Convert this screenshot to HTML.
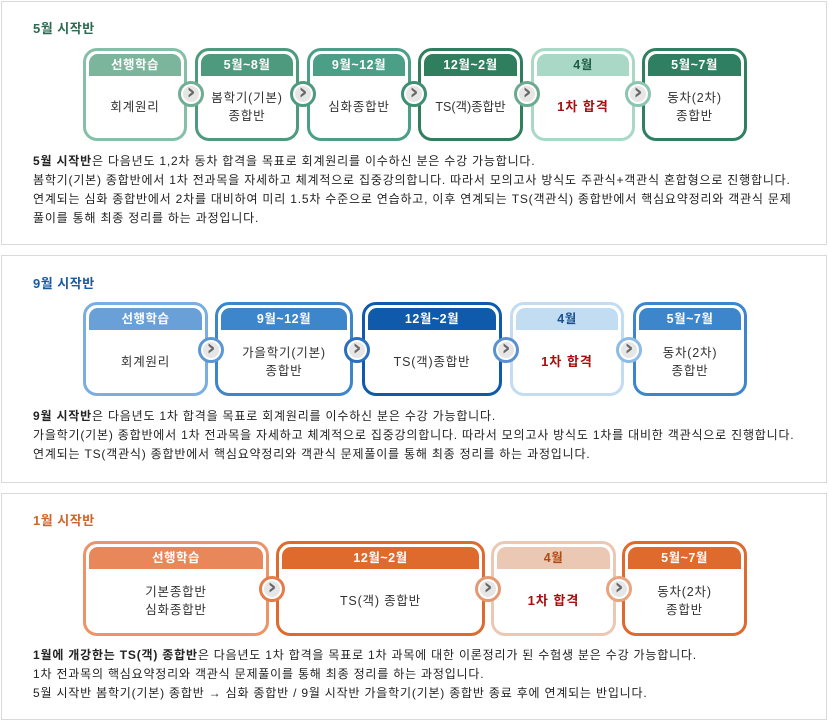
<!DOCTYPE html>
<html><head><meta charset="utf-8">
<style>
*{margin:0;padding:0;box-sizing:border-box}
body{width:829px;height:721px;background:#fff;position:relative;overflow:hidden;font-family:"Liberation Sans","Noto Sans CJK KR",sans-serif;font-size:12px;color:#222}
.panel{position:absolute;left:1px;width:826px;border:1px solid #d9d9d9;background:#fff}
.title{position:absolute;left:33px;font-weight:bold;font-size:13px;letter-spacing:0.5px}
.box{position:absolute;border:3px solid;border-radius:14px;background:#fff}
.hd{position:absolute;left:3px;right:3px;top:3px;height:22px;border-radius:9px 9px 0 0;color:#fff;font-weight:bold;text-align:center;line-height:22px;font-size:12.5px;letter-spacing:0.5px}
.bd{position:absolute;left:0;right:0;top:25px;bottom:0;display:flex;align-items:center;justify-content:center;text-align:center;line-height:18px;font-size:12.5px;letter-spacing:0.8px;color:#333}
.red{color:#a50f0f;font-weight:bold;font-size:13px;letter-spacing:1px}
.cn{position:absolute;width:26px;height:26px;border-radius:50%;border:3px solid;background:#e6e6e6;box-shadow:inset 0 0 0 2px #fff;z-index:2;text-align:center;line-height:18px;color:#666;font-weight:bold;font-size:22px;font-family:"DejaVu Sans",sans-serif}
.tx{position:absolute;left:33px;line-height:19px;font-size:12px;letter-spacing:0.8px;color:#222;white-space:nowrap}
</style></head><body>

<!-- Section 1 -->
<div class="panel" style="top:1px;height:244px"></div>
<div class="title" style="top:18px;color:#2c6b52">5월 시작반</div>

<div class="box" style="left:83px;top:48px;width:104px;height:93px;border-color:#86bfa8"><div class="hd" style="background:#7ab59c">선행학습</div><div class="bd">회계원리</div></div>
<div class="box" style="left:195px;top:48px;width:104px;height:93px;border-color:#4e9a7e"><div class="hd" style="background:#4e9a7e">5월~8월</div><div class="bd">봄학기(기본)<br>종합반</div></div>
<div class="box" style="left:307px;top:48px;width:104px;height:93px;border-color:#4a9f86"><div class="hd" style="background:#4a9f86">9월~12월</div><div class="bd">심화종합반</div></div>
<div class="box" style="left:418px;top:48px;width:105px;height:93px;border-color:#2f7f5f"><div class="hd" style="background:#2f7f5f">12월~2월</div><div class="bd" style="letter-spacing:0">TS(객)종합반</div></div>
<div class="box" style="left:531px;top:48px;width:104px;height:93px;border-color:#a9d9c6"><div class="hd" style="background:#a9d9c6;color:#1e5e44">4월</div><div class="bd"><span class="red">1차 합격</span></div></div>
<div class="box" style="left:642px;top:48px;width:105px;height:93px;border-color:#2f8062"><div class="hd" style="background:#2f8062">5월~7월</div><div class="bd">동차(2차)<br>종합반</div></div>
<div class="cn" style="left:178px;top:81px;border-color:#6fae95">›</div>
<div class="cn" style="left:290px;top:81px;border-color:#4e9a7e">›</div>
<div class="cn" style="left:401px;top:81px;border-color:#3c8f72">›</div>
<div class="cn" style="left:514px;top:81px;border-color:#6aaa90">›</div>
<div class="cn" style="left:625px;top:81px;border-color:#8cc6b0">›</div>

<div class="tx" style="top:152px"><b>5월 시작반</b>은 다음년도 1,2차 동차 합격을 목표로 회계원리를 이수하신 분은 수강 가능합니다.</div>
<div class="tx" style="top:171px">봄학기(기본) 종합반에서 1차 전과목을 자세하고 체계적으로 집중강의합니다. 따라서 모의고사 방식도 주관식+객관식 혼합형으로 진행합니다.</div>
<div class="tx" style="top:190px">연계되는 심화 종합반에서 2차를 대비하여 미리 1.5차 수준으로 연습하고, 이후 연계되는 TS(객관식) 종합반에서 핵심요약정리와 객관식 문제</div>
<div class="tx" style="top:209px">풀이를 통해 최종 정리를 하는 과정입니다.</div>

<!-- Section 2 -->
<div class="panel" style="top:255px;height:228px"></div>
<div class="title" style="top:273px;color:#1a5aa0">9월 시작반</div>

<div class="box" style="left:83px;top:302px;width:125px;height:94px;border-color:#7aaede"><div class="hd" style="background:#6aa0d8">선행학습</div><div class="bd">회계원리</div></div>
<div class="box" style="left:215px;top:302px;width:138px;height:94px;border-color:#3d86cc"><div class="hd" style="background:#3d86cc">9월~12월</div><div class="bd">가을학기(기본)<br>종합반</div></div>
<div class="box" style="left:362px;top:302px;width:140px;height:94px;border-color:#0f5aaa"><div class="hd" style="background:#0f5aaa">12월~2월</div><div class="bd">TS(객)종합반</div></div>
<div class="box" style="left:510px;top:302px;width:114px;height:94px;border-color:#c2dcf2"><div class="hd" style="background:#c2dcf2;color:#1b4f8f">4월</div><div class="bd"><span class="red">1차 합격</span></div></div>
<div class="box" style="left:633px;top:302px;width:114px;height:94px;border-color:#3d86cc"><div class="hd" style="background:#3d86cc">5월~7월</div><div class="bd">동차(2차)<br>종합반</div></div>
<div class="cn" style="left:198px;top:337px;border-color:#5b97d4">›</div>
<div class="cn" style="left:344px;top:337px;border-color:#2a70bc">›</div>
<div class="cn" style="left:493px;top:337px;border-color:#5a92cf">›</div>
<div class="cn" style="left:616px;top:337px;border-color:#8cbbe6">›</div>

<div class="tx" style="top:407px"><b>9월 시작반</b>은 다음년도 1차 합격을 목표로 회계원리를 이수하신 분은 수강 가능합니다.</div>
<div class="tx" style="top:426px">가을학기(기본) 종합반에서 1차 전과목을 자세하고 체계적으로 집중강의합니다. 따라서 모의고사 방식도 1차를 대비한 객관식으로 진행합니다.</div>
<div class="tx" style="top:445px">연계되는 TS(객관식) 종합반에서 핵심요약정리와 객관식 문제풀이를 통해 최종 정리를 하는 과정입니다.</div>

<!-- Section 3 -->
<div class="panel" style="top:493px;height:227px"></div>
<div class="title" style="top:510px;color:#d0652a">1월 시작반</div>

<div class="box" style="left:83px;top:541px;width:186px;height:95px;border-color:#ec9468"><div class="hd" style="background:#e8875a">선행학습</div><div class="bd">기본종합반<br>심화종합반</div></div>
<div class="box" style="left:276px;top:541px;width:209px;height:95px;border-color:#df6a2e"><div class="hd" style="background:#df6a2e">12월~2월</div><div class="bd">TS(객) 종합반</div></div>
<div class="box" style="left:491px;top:541px;width:125px;height:95px;border-color:#ebc8b4"><div class="hd" style="background:#ebc8b4;color:#b04a10">4월</div><div class="bd"><span class="red">1차 합격</span></div></div>
<div class="box" style="left:622px;top:541px;width:125px;height:95px;border-color:#df6a2e"><div class="hd" style="background:#df6a2e">5월~7월</div><div class="bd">동차(2차)<br>종합반</div></div>
<div class="cn" style="left:259px;top:576px;border-color:#e47d4a">›</div>
<div class="cn" style="left:475px;top:576px;border-color:#e49a70">›</div>
<div class="cn" style="left:606px;top:576px;border-color:#e8a47e">›</div>

<div class="tx" style="top:646px"><b>1월에 개강한는 TS(객) 종합반</b>은 다음년도 1차 합격을 목표로 1차 과목에 대한 이론정리가 된 수험생 분은 수강 가능합니다.</div>
<div class="tx" style="top:665px">1차 전과목의 핵심요약정리와 객관식 문제풀이를 통해 최종 정리를 하는 과정입니다.</div>
<div class="tx" style="top:684px">5월 시작반 봄학기(기본) 종합반 → 심화 종합반 / 9월 시작반 가을학기(기본) 종합반 종료 후에 연계되는 반입니다.</div>

</body></html>
